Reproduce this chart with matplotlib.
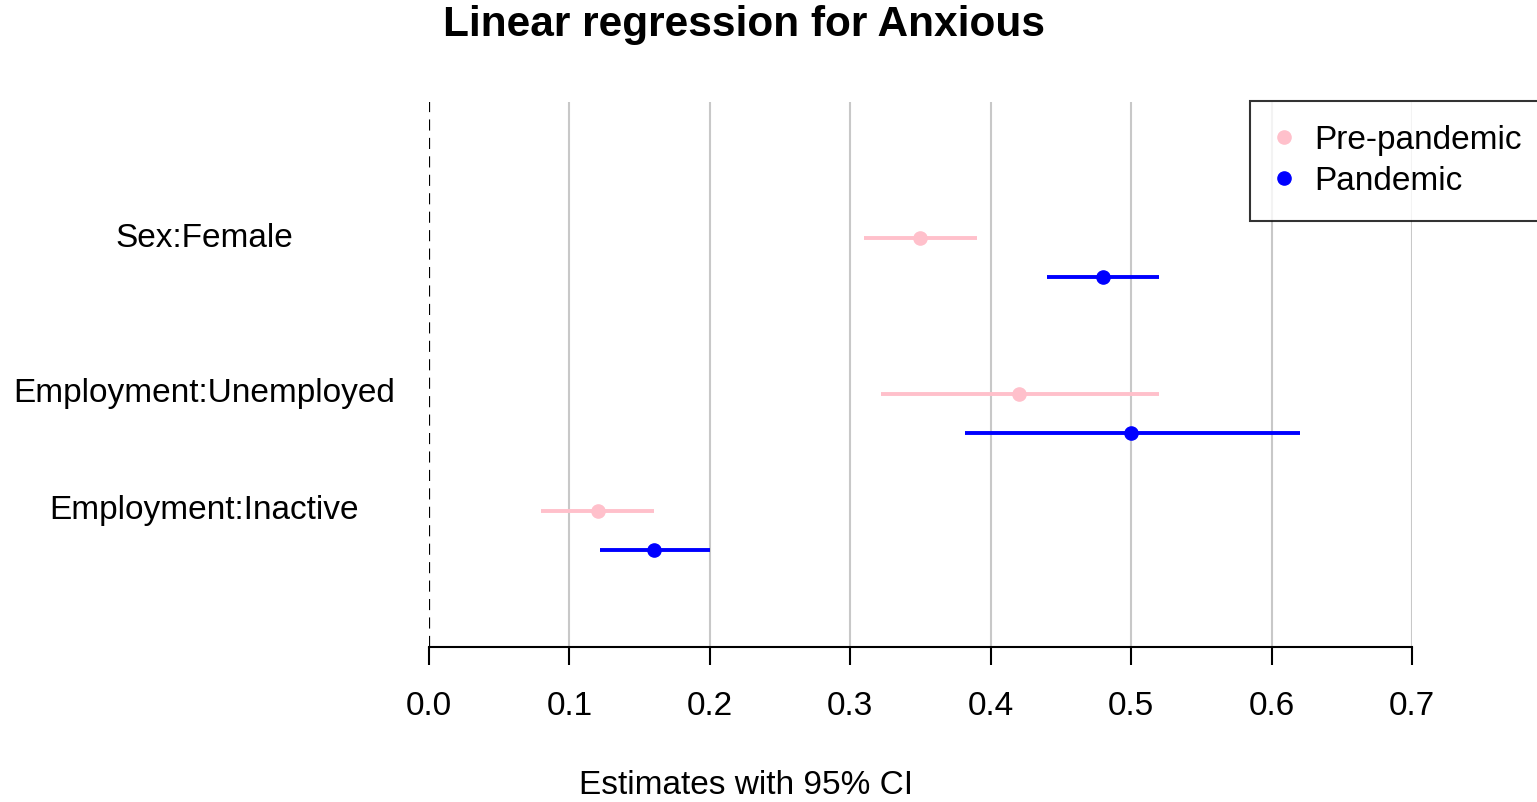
import matplotlib
matplotlib.use("Agg")
import matplotlib.pyplot as plt
import matplotlib.transforms as mtransforms
from matplotlib.lines import Line2D

plt.rcParams['font.family'] = ['Liberation Sans', 'DejaVu Sans']

# ---- data ----
categories = ["Sex:Female", "Employment:Unemployed", "Employment:Inactive"]
cat_y = [10.5, 6.5, 3.5]
pre_est = [0.35, 0.42, 0.12]
pre_low = [0.31, 0.322, 0.08]
pre_high = [0.39, 0.52, 0.16]
pan_est = [0.48, 0.50, 0.16]
pan_low = [0.44, 0.382, 0.122]
pan_high = [0.52, 0.62, 0.20]
x_ticks = [0.0, 0.1, 0.2, 0.3, 0.4, 0.5, 0.6, 0.7]
x_ticklabels = ["0.0", "0.1", "0.2", "0.3", "0.4", "0.5", "0.6", "0.7"]
series_names = ["Pre-pandemic", "Pandemic"]
series_colors = ["pink", "blue"]

W, H = 1537, 802
FS = 24.0
fig = plt.figure(figsize=(W / 100, H / 100), dpi=100)
ax = fig.add_axes([429 / W, 1 - 647 / H, (1412 - 429) / W, (647 - 102) / H])
ax.set_xlim(0, 0.7)
ax.set_ylim(0, 14)

# grid lines
for t in x_ticks[1:]:
    ax.axvline(t, color="#c8c8c8", lw=1.5, zorder=0)
ax.axvline(0, color="black", lw=1.6, ls=(0, (5, 3.3)), zorder=1)

# CI lines and points
pan_y = [y - 1 for y in cat_y]
for ys, est, lo, hi, col in [(cat_y, pre_est, pre_low, pre_high, series_colors[0]),
                              (pan_y, pan_est, pan_low, pan_high, series_colors[1])]:
    ax.hlines(ys, lo, hi, color=col, lw=2.8, zorder=2)
    ax.plot(est, ys, "o", color=col, ms=9.5, zorder=3)

# category labels
trans = mtransforms.blended_transform_factory(fig.transFigure, ax.transData)
for lab, y in zip(categories, cat_y):
    ax.text(204 / W, y, lab, transform=trans, ha="center", va="center", fontsize=FS)

# axes styling
for s in ["left", "right", "top"]:
    ax.spines[s].set_visible(False)
ax.spines["bottom"].set_linewidth(1.5)
ax.set_yticks([])
ax.set_xticks(x_ticks)
ax.set_xticklabels(x_ticklabels, fontsize=FS)
ax.tick_params(axis="x", length=13, width=1.5, pad=19)

fig.text(746 / W, 1 - 785 / H, "Estimates with 95% CI", ha="center", va="center", fontsize=FS)
fig.text(744 / W, 1 - 25 / H, "Linear regression for Anxious", ha="center", va="center",
         fontsize=30.5, fontweight="bold")

# legend
handles = [Line2D([], [], ls="none", marker="o", color=c, ms=9.5) for c in series_colors]
leg = fig.legend(handles, series_names, loc="upper left", bbox_to_anchor=(1250 / W, 1 - 101 / H),
                 fontsize=FS, frameon=True, fancybox=False, edgecolor="black",
                 borderpad=0.72, handletextpad=0.6, handlelength=0.6, labelspacing=0.3,
                 borderaxespad=0)
leg.get_frame().set_linewidth(1.5)

fig.savefig("out.png", dpi=100)
